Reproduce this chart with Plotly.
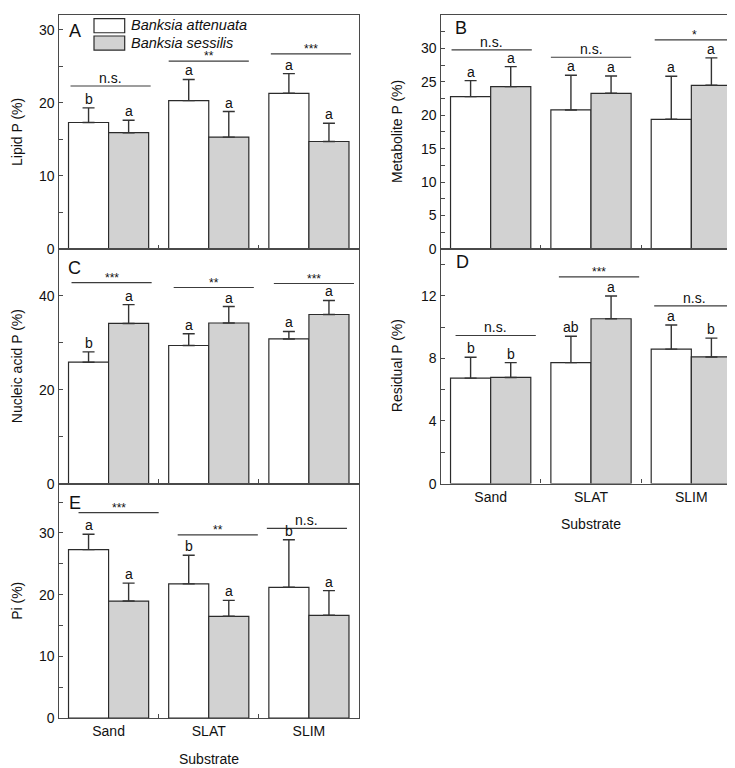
import plotly.graph_objects as go

# ---------------- data ----------------
categories = ["Sand", "SLAT", "SLIM"]
species = ["Banksia attenuata", "Banksia sessilis"]

lipid_att = [17.3, 20.3, 21.3]
lipid_att_err = [2.0, 2.9, 2.7]
lipid_ses = [15.9, 15.3, 14.7]
lipid_ses_err = [1.7, 3.5, 2.5]
lipid_let_att = ["b", "a", "a"]
lipid_let_ses = ["a", "a", "a"]
lipid_sig = ["n.s.", "**", "***"]
lipid_sig_y = [22.3, 25.7, 26.7]

metab_att = [22.8, 20.8, 19.4]
metab_att_err = [2.4, 5.2, 6.45]
metab_ses = [24.3, 23.3, 24.5]
metab_ses_err = [3.0, 2.6, 4.1]
metab_let_att = ["a", "a", "a"]
metab_let_ses = ["a", "a", "a"]
metab_sig = ["n.s.", "n.s.", "*"]
metab_sig_y = [29.8, 28.7, 31.3]

nucl_att = [25.85, 29.4, 30.8]
nucl_att_err = [2.2, 2.5, 1.6]
nucl_ses = [34.1, 34.2, 36.0]
nucl_ses_err = [4.0, 3.5, 3.0]
nucl_let_att = ["b", "a", "a"]
nucl_let_ses = ["a", "a", "a"]
nucl_sig = ["***", "**", "***"]
nucl_sig_y = [42.8, 41.75, 42.6]

resid_att = [6.74, 7.73, 8.59]
resid_att_err = [1.33, 1.68, 1.54]
resid_ses = [6.78, 10.53, 8.09]
resid_ses_err = [0.95, 1.45, 1.2]
resid_let_att = ["b", "ab", "a"]
resid_let_ses = ["b", "a", "b"]
resid_sig = ["n.s.", "***", "n.s."]
resid_sig_y = [9.46, 13.2, 11.35]

pi_att = [27.3, 21.75, 21.2]
pi_att_err = [2.5, 4.65, 7.7]
pi_ses = [18.97, 16.5, 16.66]
pi_ses_err = [2.9, 2.57, 4.0]
pi_let_att = ["a", "b", "b"]
pi_let_ses = ["a", "a", "a"]
pi_sig = ["***", "**", "n.s."]
pi_sig_y = [33.3, 29.7, 30.75]

y_titles = ["Lipid P (%)", "Metabolite P (%)", "Nucleic acid P (%)", "Residual P (%)", "Pi (%)"]
panel_letters = ["A", "B", "C", "D", "E"]
x_title = "Substrate"

# ---------------- layout helpers ----------------
W, H = 735, 768
FONT = "Liberation Sans, Arial, Helvetica, sans-serif"
FRAME = "#4a4a4a"
BAR_LINE = "#2b2b2b"
GRAY = "#d2d2d2"
TXT = "#111111"


def px(x):
    return x / W


def py(y):
    return 1 - y / H


LEFT = (50.5, 351.0)
RIGHT = (432.5, 733.5)
ROW1 = (7.3, 243.3)
ROW2 = (243.3, 480.6)
ROW3 = (480.6, 717.6)

panels = [
    dict(att=lipid_att, att_err=lipid_att_err, ses=lipid_ses, ses_err=lipid_ses_err,
         la=lipid_let_att, ls=lipid_let_ses, sig=lipid_sig, sig_y=lipid_sig_y,
         col=LEFT, row=ROW1, yr=[0, 32], dtick=10, minor=5, xlabels=False,
         lab=(16.5, 16), sig_left=[-0.38, -0.40, -0.38]),
    dict(att=metab_att, att_err=metab_att_err, ses=metab_ses, ses_err=metab_ses_err,
         la=metab_let_att, ls=metab_let_ses, sig=metab_sig, sig_y=metab_sig_y,
         col=RIGHT, row=ROW1, yr=[0, 35], dtick=5, minor=2.5, xlabels=False,
         lab=(20, 13), sig_left=[-0.39, -0.40, -0.365]),
    dict(att=nucl_att, att_err=nucl_att_err, ses=nucl_ses, ses_err=nucl_ses_err,
         la=nucl_let_att, ls=nucl_let_ses, sig=nucl_sig, sig_y=nucl_sig_y,
         col=LEFT, row=ROW2, yr=[0, 50], dtick=20, minor=10, xlabels=False,
         lab=(16, 19), sig_left=[-0.37, -0.35, -0.35]),
    dict(att=resid_att, att_err=resid_att_err, ses=resid_ses, ses_err=resid_ses_err,
         la=resid_let_att, ls=resid_let_ses, sig=resid_sig, sig_y=resid_sig_y,
         col=RIGHT, row=ROW2, yr=[0, 15], dtick=4, minor=2, xlabels=True,
         lab=(21.5, 13.5), sig_left=[-0.35, -0.32, -0.37]),
    dict(att=pi_att, att_err=pi_att_err, ses=pi_ses, ses_err=pi_ses_err,
         la=pi_let_att, ls=pi_let_ses, sig=pi_sig, sig_y=pi_sig_y,
         col=LEFT, row=ROW3, yr=[0, 38], dtick=10, minor=5, xlabels=True,
         lab=(16, 19.5), sig_left=[-0.30, -0.31, -0.42]),
]

fig = go.Figure()
annotations = []
shapes = []
layout_axes = {}

for k, p in enumerate(panels):
    n = "" if k == 0 else str(k + 1)
    xa, ya = "x" + n, "y" + n
    # bars
    fig.add_trace(go.Bar(
        x=categories, y=p["att"], name=species[0], xaxis=xa, yaxis=ya,
        offsetgroup="att", showlegend=False,
        marker=dict(color="white", line=dict(color=BAR_LINE, width=1.2)),
        error_y=dict(type="data", array=p["att_err"], arrayminus=[0] * 3,
                     symmetric=False, color="#333333", thickness=1.4, width=6),
    ))
    fig.add_trace(go.Bar(
        x=categories, y=p["ses"], name=species[1], xaxis=xa, yaxis=ya,
        offsetgroup="ses", showlegend=False,
        marker=dict(color=GRAY, line=dict(color=BAR_LINE, width=1.2)),
        error_y=dict(type="data", array=p["ses_err"], arrayminus=[0] * 3,
                     symmetric=False, color="#333333", thickness=1.4, width=6),
    ))
    x0, x1 = p["col"]
    t, b = p["row"]
    common = dict(showline=True, linecolor=FRAME, linewidth=1.4, mirror=True,
                  showgrid=False, zeroline=False,
                  tickfont=dict(family=FONT, size=14, color=TXT), tickcolor=FRAME)
    layout_axes["xaxis" + n] = dict(
        common, domain=[px(x0), px(x1)], anchor=ya, type="category",
        range=[-0.5, 2.5], tickson="boundaries", ticks="inside", ticklen=4,
        showticklabels=p["xlabels"], fixedrange=True)
    layout_axes["yaxis" + n] = dict(
        common, domain=[py(b), py(t)], anchor=xa, range=p["yr"], dtick=p["dtick"],
        tick0=0, ticks="inside", ticklen=4,
        minor=dict(dtick=p["minor"], tick0=0, ticks="inside", ticklen=4, tickcolor=FRAME),
        fixedrange=True)
    # letters
    for i in range(3):
        annotations.append(dict(x=i - 0.2, y=p["att"][i] + p["att_err"][i], xref=xa, yref=ya,
                                text=p["la"][i], showarrow=False, yanchor="bottom",
                                font=dict(family=FONT, size=14, color=TXT), yshift=-1))
        annotations.append(dict(x=i + 0.2, y=p["ses"][i] + p["ses_err"][i], xref=xa, yref=ya,
                                text=p["ls"][i], showarrow=False, yanchor="bottom",
                                font=dict(family=FONT, size=14, color=TXT), yshift=-1))
        # significance line + text
        sl = i + p["sig_left"][i]
        shapes.append(dict(type="line", xref=xa, yref=ya, x0=sl, x1=sl + 0.8,
                           y0=p["sig_y"][i], y1=p["sig_y"][i],
                           line=dict(color="#3c3c3c", width=1.2)))
        is_star = "*" in p["sig"][i]
        annotations.append(dict(x=sl + 0.4, y=p["sig_y"][i], xref=xa, yref=ya,
                                text=p["sig"][i], showarrow=False, yanchor="bottom",
                                font=dict(family=FONT, size=12 if is_star else 14, color=TXT),
                                borderpad=0, yshift=-3 if is_star else -1))
    # panel letter
    annotations.append(dict(x=px(x0 + p["lab"][0]), y=py(t + p["lab"][1]), xref="paper",
                            yref="paper", text=panel_letters[k], showarrow=False,
                            xanchor="center", yanchor="middle",
                            font=dict(family=FONT, size=18, color=TXT)))
    # y title
    tx = 9 if p["col"] == LEFT else 389
    annotations.append(dict(x=px(tx), y=py((t + b) / 2), xref="paper", yref="paper",
                            text=y_titles[k], showarrow=False, textangle=-90,
                            xanchor="center", yanchor="middle",
                            font=dict(family=FONT, size=14, color=TXT)))
    if p["xlabels"]:
        annotations.append(dict(x=px((x0 + x1) / 2), y=py(b + 41), xref="paper", yref="paper",
                                text=x_title, showarrow=False, xanchor="center",
                                yanchor="middle", font=dict(family=FONT, size=14, color=TXT)))

# legend drawn inside panel A
for j, (fill, label) in enumerate([("white", species[0]), (GRAY, species[1])]):
    top = 10.7 + j * 17.6
    shapes.append(dict(type="rect", xref="paper", yref="paper",
                       x0=px(86), x1=px(116.7), y0=py(top + 14.3), y1=py(top),
                       fillcolor=fill, line=dict(color=BAR_LINE, width=1.2)))
    annotations.append(dict(x=px(122), y=py(top + 6.8), xref="paper", yref="paper",
                            text="<i>" + label + "</i>", showarrow=False,
                            xanchor="left", yanchor="middle", borderpad=0,
                            font=dict(family=FONT, size=14.5, color=TXT)))

fig.update_layout(
    width=W, height=H, margin=dict(l=0, r=0, t=0, b=0),
    paper_bgcolor="white", plot_bgcolor="white",
    barmode="group", bargap=0.2, bargroupgap=0,
    showlegend=False, annotations=annotations, shapes=shapes,
    **layout_axes,
)

fig.write_html("out.html")
